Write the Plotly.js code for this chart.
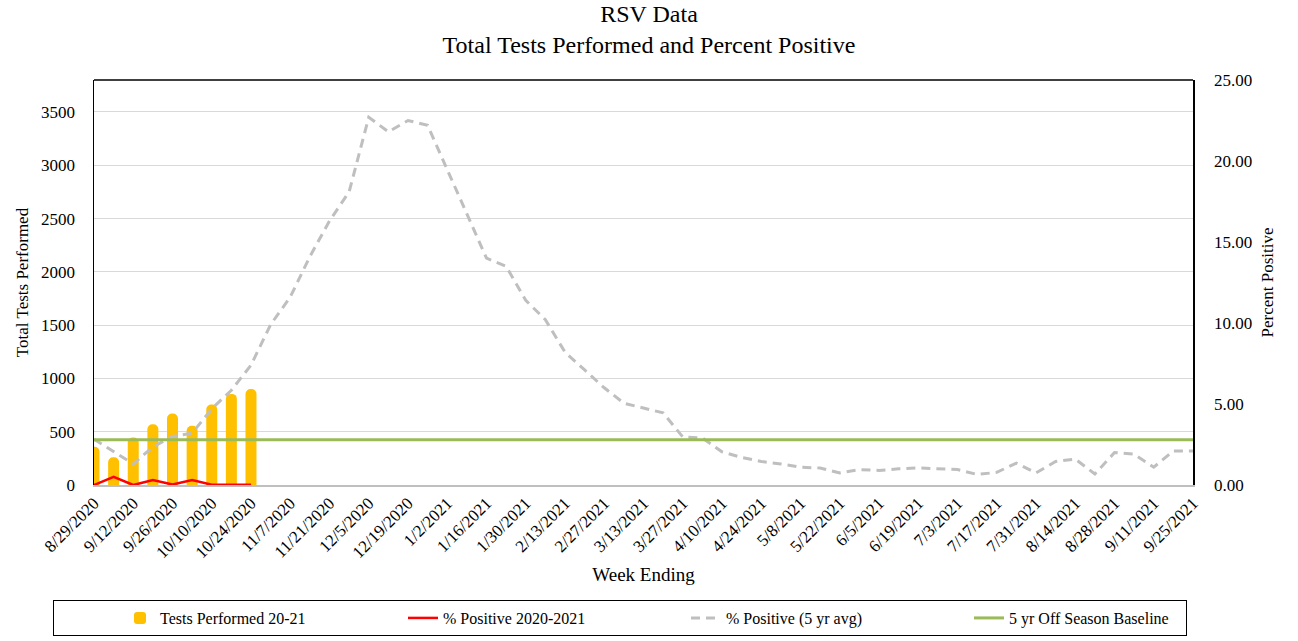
<!DOCTYPE html>
<html><head><meta charset="utf-8">
<script src="https://cdn.plot.ly/plotly-3.0.1.min.js"></script>
<style>html,body{margin:0;padding:0;background:#fff}#chart{width:1298px;height:641px}</style>
</head><body><div id="chart"></div><script>
const weeks = ["8/29/2020","9/5/2020","9/12/2020","9/19/2020","9/26/2020","10/3/2020","10/10/2020","10/17/2020","10/24/2020","10/31/2020",
 "11/7/2020","11/14/2020","11/21/2020","11/28/2020","12/5/2020","12/12/2020","12/19/2020","12/26/2020","1/2/2021","1/9/2021",
 "1/16/2021","1/23/2021","1/30/2021","2/6/2021","2/13/2021","2/20/2021","2/27/2021","3/6/2021","3/13/2021","3/20/2021",
 "3/27/2021","4/3/2021","4/10/2021","4/17/2021","4/24/2021","5/1/2021","5/8/2021","5/15/2021","5/22/2021","5/29/2021",
 "6/5/2021","6/12/2021","6/19/2021","6/26/2021","7/3/2021","7/10/2021","7/17/2021","7/24/2021","7/31/2021","8/7/2021",
 "8/14/2021","8/21/2021","8/28/2021","9/4/2021","9/11/2021","9/18/2021","9/25/2021"];
const tickLabels = ["8/29/2020","9/12/2020","9/26/2020","10/10/2020","10/24/2020","11/7/2020","11/21/2020","12/5/2020","12/19/2020",
 "1/2/2021","1/16/2021","1/30/2021","2/13/2021","2/27/2021","3/13/2021","3/27/2021","4/10/2021","4/24/2021","5/8/2021",
 "5/22/2021","6/5/2021","6/19/2021","7/3/2021","7/17/2021","7/31/2021","8/14/2021","8/28/2021","9/11/2021","9/25/2021"];
const testWeeks = ["8/29/2020","9/5/2020","9/12/2020","9/19/2020","9/26/2020","10/3/2020","10/10/2020","10/17/2020","10/24/2020"];
const testsPerformed = [360, 260, 445, 570, 670, 555, 755, 855, 900];
const pctPositive2021 = [0, 0.5, 0, 0.3, 0.03, 0.3, 0.02, 0.02, 0.02];
const pctPositive5yr = [2.82, 2.05, 1.3, 2.35, 3.0, 3.2, 4.7, 5.85, 7.4, 9.9,
 11.6, 14.1, 16.3, 18.1, 22.7, 21.8, 22.5, 22.2, 19.5, 16.8,
 14.0, 13.5, 11.4, 10.2, 8.2, 7.1, 6.0, 5.05, 4.75, 4.45,
 2.97, 2.9, 2.05, 1.7, 1.45, 1.3, 1.1, 1.05, 0.75, 0.95,
 0.9, 1.0, 1.05, 1.0, 0.95, 0.65, 0.78, 1.35, 0.75, 1.45,
 1.6, 0.68, 2.0, 1.9, 1.1, 2.1, 2.1];
const baselineWeeks = ["8/29/2020", "9/25/2021"];
const baselineValues = [2.8, 2.8];

const F = "Liberation Serif, Times New Roman, serif";
const traces = [
 {type:'bar', name:'Tests Performed 20-21', x:testWeeks, y:testsPerformed, yaxis:'y',
  marker:{color:'#FFC000', cornerradius:5}, width:0.56, hoverinfo:'x+y'},
 {type:'scatter', mode:'lines', name:'% Positive 2020-2021', x:testWeeks, y:pctPositive2021, yaxis:'y2',
  line:{color:'#FF0000', width:2.5}},
 {type:'scatter', mode:'lines', name:'% Positive (5 yr avg)', x:weeks, y:pctPositive5yr, yaxis:'y2',
  line:{color:'#BFBFBF', width:3, dash:'9px,6px'}},
 {type:'scatter', mode:'lines', name:'5 yr Off Season Baseline', x:baselineWeeks, y:baselineValues, yaxis:'y2',
  line:{color:'#9BBB59', width:3}}
];
const layout = {
 width:1298, height:641,
 margin:{l:94, r:105, t:80, b:156, autoexpand:false},
 paper_bgcolor:'#fff', plot_bgcolor:'#fff',
 font:{family:F, color:'#000', size:17},
 title:{text:'RSV Data<br>Total Tests Performed and Percent Positive', x:0.5, xanchor:'center',
  y:0.966, yanchor:'top', yref:'container', font:{family:F, size:24, color:'#000'}},
 showlegend:true,
 legend:{orientation:'h', x:-0.0373, xanchor:'left', y:-0.284, yanchor:'top',
  bordercolor:'#000', borderwidth:1, font:{family:F, size:16, color:'#000'},
  entrywidth:172, indentation:66, traceorder:'normal'},
 xaxis:{type:'category', categoryorder:'array', categoryarray:weeks, range:[0,56],
  tickmode:'array', tickvals:tickLabels, ticktext:tickLabels, tickangle:-45,
  showline:true, linecolor:'#BFBFBF', linewidth:1.5, ticks:'', showgrid:false, zeroline:false,
  tickfont:{family:F, size:17, color:'#000'},
  title:{text:'Week Ending', font:{family:F, size:19, color:'#000'}, standoff:6}},
 yaxis:{range:[0,3800], tick0:0, dtick:500, showgrid:true, gridcolor:'#D9D9D9', gridwidth:1,
  showline:true, linecolor:'#000', linewidth:1.5, ticks:'', zeroline:false, ticklabelstandoff:14,
  tickfont:{family:F, size:17, color:'#000'},
  title:{text:'Total Tests Performed', font:{family:F, size:17, color:'#000'}, standoff:8}},
 yaxis2:{overlaying:'y', side:'right', range:[0,25], tick0:0, dtick:5, tickformat:'.2f',
  showgrid:false, showline:true, linecolor:'#000', linewidth:1.5, ticks:'', zeroline:false, ticklabelstandoff:16,
  tickfont:{family:F, size:17, color:'#000'},
  title:{text:'Percent Positive', font:{family:F, size:17, color:'#000'}, standoff:10}},
 shapes:[{type:'line', xref:'paper', yref:'paper', x0:0, x1:1, y0:1, y1:1, line:{color:'#000', width:1.5}}]
};
Plotly.newPlot('chart', traces, layout, {displayModeBar:false, staticPlot:true});
</script></body></html>
